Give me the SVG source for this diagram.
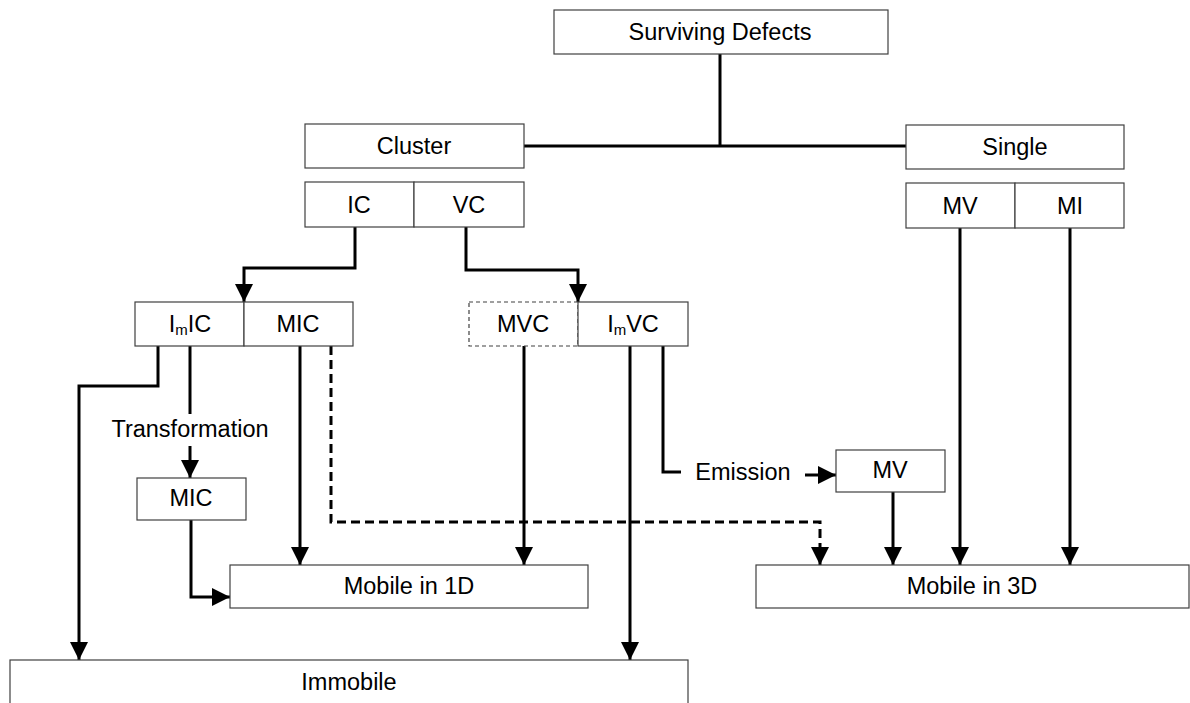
<svg xmlns="http://www.w3.org/2000/svg" width="1190" height="703" viewBox="0 0 1190 703">
<style>
.box{fill:#fff;stroke:#404040;stroke-width:1.2}
.dbox{fill:#fff;stroke:#404040;stroke-width:1.2;stroke-dasharray:4,3}
.t{font-family:"Liberation Sans",Arial,sans-serif;font-size:23.5px;fill:#000;text-anchor:middle;dominant-baseline:central}
.c{fill:none;stroke:#000;stroke-width:3}
.d{fill:none;stroke:#000;stroke-width:3;stroke-dasharray:9,5}
</style>
<defs>
<marker id="ah" markerUnits="userSpaceOnUse" markerWidth="20" markerHeight="20" refX="18" refY="9" orient="auto">
<path d="M0,0 L18,9 L0,18 Z" fill="#000"/>
</marker>
</defs>
<rect width="1190" height="703" fill="#fff"/>
<g id="connectors">
<path class="c" d="M720,54 V147"/>
<path class="c" d="M524,146 H906"/>
<path class="c" d="M355,227 V268 H244 V302" marker-end="url(#ah)"/>
<path class="c" d="M466,227 V270 H578 V302" marker-end="url(#ah)"/>
<path class="c" d="M158,346 V386 H79 V660" marker-end="url(#ah)"/>
<path class="c" d="M190,346 V414"/>
<path class="c" d="M190,446 V478" marker-end="url(#ah)"/>
<path class="c" d="M191,520 V597 H230" marker-end="url(#ah)"/>
<path class="c" d="M300,346 V565" marker-end="url(#ah)"/>
<path class="d" d="M331,346 V522 H820 V565" marker-end="url(#ah)"/>
<path class="c" d="M524,346 V565" marker-end="url(#ah)"/>
<path class="c" d="M630,346 V660" marker-end="url(#ah)"/>
<path class="c" d="M663,346 V472 H681"/>
<path class="c" d="M805,475 H836" marker-end="url(#ah)"/>
<path class="c" d="M893,492 V565" marker-end="url(#ah)"/>
<path class="c" d="M960,228 V565" marker-end="url(#ah)"/>
<path class="c" d="M1070,228 V565" marker-end="url(#ah)"/>
<text class="t" x="190" y="429">Transformation</text>
<text class="t" x="743" y="472">Emission</text>
</g>
<g id="surviving"><rect class="box" x="554" y="10" width="334" height="44"/><text class="t" x="720" y="32">Surviving Defects</text></g>
<g id="cluster"><rect class="box" x="305" y="124" width="219" height="44"/><text class="t" x="414" y="146">Cluster</text></g>
<g id="single"><rect class="box" x="906" y="125" width="218" height="44"/><text class="t" x="1015" y="147">Single</text></g>
<g id="ic"><rect class="box" x="305" y="182" width="109" height="45"/><text class="t" x="359" y="205">IC</text></g>
<g id="vc"><rect class="box" x="414" y="182" width="110" height="45"/><text class="t" x="469" y="205">VC</text></g>
<g id="mv"><rect class="box" x="906" y="183" width="109" height="45"/><text class="t" x="960" y="206">MV</text></g>
<g id="mi"><rect class="box" x="1015" y="183" width="109" height="45"/><text class="t" x="1070" y="206">MI</text></g>
<g id="imic"><rect class="box" x="135" y="302" width="109" height="44"/><text class="t" x="190" y="324">I<tspan font-size="15" dy="5">m</tspan><tspan dy="-5">IC</tspan></text></g>
<g id="mic"><rect class="box" x="244" y="302" width="109" height="44"/><text class="t" x="298" y="324">MIC</text></g>
<g id="mvc"><rect class="dbox" x="469" y="302" width="109" height="44"/><text class="t" x="523" y="324">MVC</text></g>
<g id="imvc"><rect class="box" x="578" y="302" width="110" height="44"/><text class="t" x="633" y="324">I<tspan font-size="15" dy="5">m</tspan><tspan dy="-5">VC</tspan></text></g>
<g id="mic2"><rect class="box" x="137" y="478" width="109" height="42"/><text class="t" x="191" y="498">MIC</text></g>
<g id="mv2"><rect class="box" x="836" y="450" width="109" height="42"/><text class="t" x="890" y="470">MV</text></g>
<g id="mobile1d"><rect class="box" x="230" y="565" width="358" height="43"/><text class="t" x="409" y="586">Mobile in 1D</text></g>
<g id="mobile3d"><rect class="box" x="756" y="565" width="433" height="43"/><text class="t" x="972" y="586">Mobile in 3D</text></g>
<g id="immobile"><rect class="box" x="10" y="660" width="678" height="60"/><text class="t" x="349" y="682">Immobile</text></g>
</svg>
